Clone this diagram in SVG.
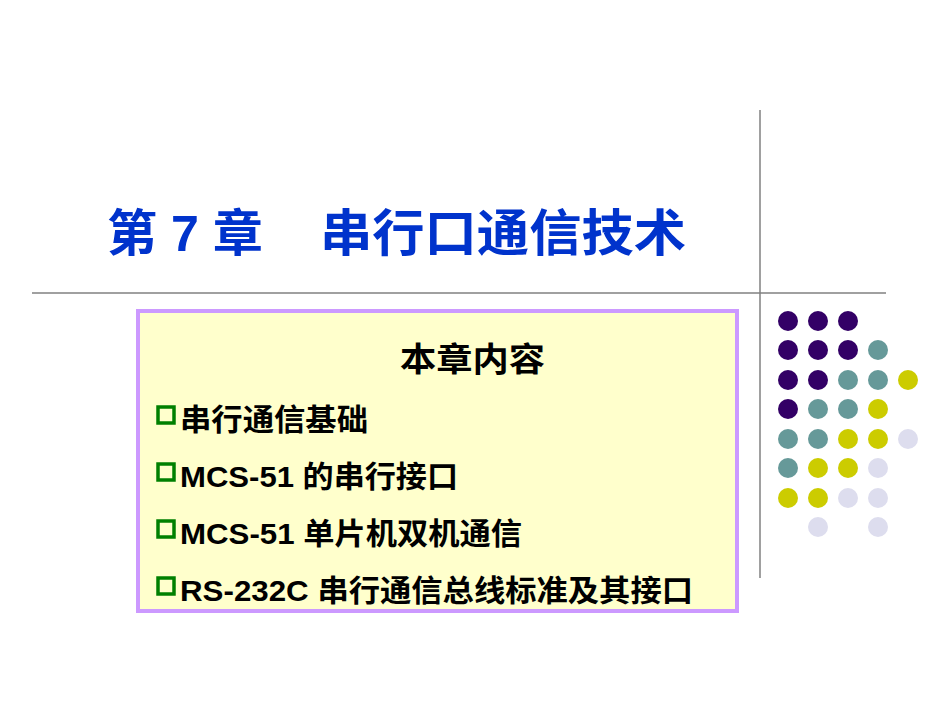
<svg xmlns="http://www.w3.org/2000/svg" width="950" height="713" viewBox="0 0 950 713">
<style>
text{font-family:"Liberation Sans","Noto Sans CJK SC",sans-serif;font-weight:bold}
.t{font-size:30px;fill:#000}
.b{fill:none;stroke:#008000;stroke-width:3.5}
.p{fill:#330066}.g{fill:#669999}.y{fill:#cccc00}.l{fill:#ddddee}
</style>
<rect width="950" height="713" fill="#fff"/>
<line x1="760" y1="110" x2="760" y2="578" stroke="#808080" stroke-width="1.5"/>
<line x1="32" y1="293" x2="886" y2="293" stroke="#808080" stroke-width="1.5"/>
<text x="107" y="251" font-size="50" fill="#0033cc" textLength="156" lengthAdjust="spacingAndGlyphs">第 7 章</text>
<text x="320" y="251" font-size="50" fill="#0033cc" textLength="366" lengthAdjust="spacingAndGlyphs">串行口通信技术</text>
<g id="box">
<rect x="138" y="311" width="599" height="300" fill="#ffffcc" stroke="#cc99ff" stroke-width="4"/>
<text class="t" x="400" y="371" style="font-size:33px" textLength="145" lengthAdjust="spacingAndGlyphs">本章内容</text>
<rect class="b" x="158" y="407" width="16" height="16"/><text class="t" x="180" y="430" textLength="188" lengthAdjust="spacingAndGlyphs">串行通信基础</text>
<rect class="b" x="158" y="464" width="16" height="16"/><text class="t" x="180" y="487" textLength="278" lengthAdjust="spacingAndGlyphs">MCS-51 的串行接口</text>
<rect class="b" x="158" y="521" width="16" height="16"/><text class="t" x="180" y="544" textLength="342" lengthAdjust="spacingAndGlyphs">MCS-51 单片机双机通信</text>
<rect class="b" x="158" y="578" width="16" height="16"/><text class="t" x="180" y="601" textLength="513" lengthAdjust="spacingAndGlyphs">RS-232C 串行通信总线标准及其接口</text>
</g>
<g id="dots">
<circle class="p" cx="788" cy="321" r="10"/><circle class="p" cx="818" cy="321" r="10"/><circle class="p" cx="848" cy="321" r="10"/>
<circle class="p" cx="788" cy="350" r="10"/><circle class="p" cx="818" cy="350" r="10"/><circle class="p" cx="848" cy="350" r="10"/><circle class="g" cx="878" cy="350" r="10"/>
<circle class="p" cx="788" cy="380" r="10"/><circle class="p" cx="818" cy="380" r="10"/><circle class="g" cx="848" cy="380" r="10"/><circle class="g" cx="878" cy="380" r="10"/><circle class="y" cx="908" cy="380" r="10"/>
<circle class="p" cx="788" cy="409" r="10"/><circle class="g" cx="818" cy="409" r="10"/><circle class="g" cx="848" cy="409" r="10"/><circle class="y" cx="878" cy="409" r="10"/>
<circle class="g" cx="788" cy="439" r="10"/><circle class="g" cx="818" cy="439" r="10"/><circle class="y" cx="848" cy="439" r="10"/><circle class="y" cx="878" cy="439" r="10"/><circle class="l" cx="908" cy="439" r="10"/>
<circle class="g" cx="788" cy="468" r="10"/><circle class="y" cx="818" cy="468" r="10"/><circle class="y" cx="848" cy="468" r="10"/><circle class="l" cx="878" cy="468" r="10"/>
<circle class="y" cx="788" cy="498" r="10"/><circle class="y" cx="818" cy="498" r="10"/><circle class="l" cx="848" cy="498" r="10"/><circle class="l" cx="878" cy="498" r="10"/>
<circle class="l" cx="818" cy="527" r="10"/><circle class="l" cx="878" cy="527" r="10"/>
</g>
</svg>
